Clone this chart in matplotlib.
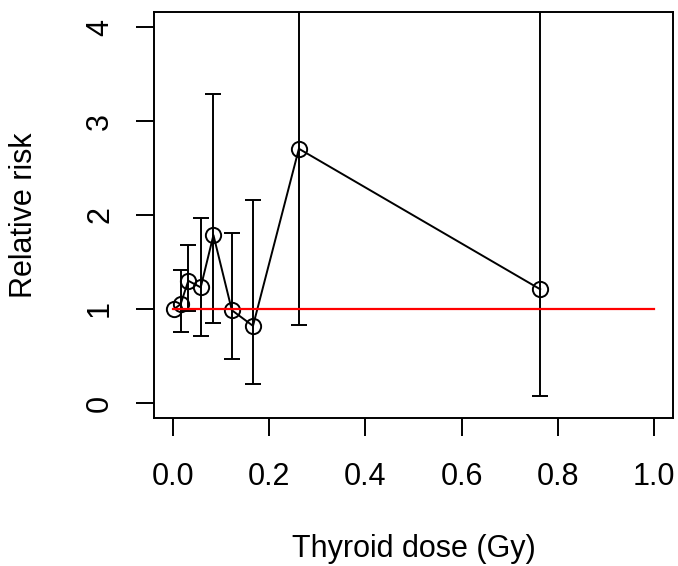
import numpy as np
import matplotlib
matplotlib.use("Agg")
import matplotlib.pyplot as plt

plt.rcParams['font.family'] = ['Liberation Sans', 'DejaVu Sans']

# dose categories (Gy) and relative risks with 95% CI
dose = [0.002, 0.0153, 0.0314, 0.0572, 0.0837, 0.122, 0.166, 0.2615, 0.7636]
rr = [1.0, 1.05, 1.30, 1.23, 1.786, 0.987, 0.82, 2.705, 1.21]
lower = [np.nan, 0.75, 0.98, 0.71, 0.846, 0.467, 0.20, 0.83, 0.077]
upper = [np.nan, 1.42, 1.68, 1.97, 3.29, 1.81, 2.16, 6.0, 12.0]

xticks = [0.0, 0.2, 0.4, 0.6, 0.8, 1.0]
yticks = [0, 1, 2, 3, 4]

fig = plt.figure(figsize=(6.78, 5.66), dpi=100)
ax = fig.add_axes([154/678, 1 - 418/566, (673-154)/678, (418-12)/566])

dose = np.array(dose)
rr = np.array(rr)
lo = np.array(lower)
hi = np.array(upper)
yerr = np.vstack([rr - lo, hi - rr])

lw = 1.4
ax.errorbar(dose, rr, yerr=yerr, fmt='none', ecolor='black', elinewidth=lw,
            capsize=5.8, capthick=lw, zorder=2)
ax.plot(dose, rr, color='black', lw=lw, marker='o', ms=11, mfc='none',
        mec='black', mew=lw, zorder=3)
ax.plot([0, 1], [1, 1], color='red', lw=1.6, zorder=4)

ax.set_xlim(-0.04, 1.04)
ax.set_ylim(-0.16, 4.16)
ax.set_xticks(xticks)
ax.set_xticklabels(['0.0', '0.2', '0.4', '0.6', '0.8', '1.0'])
ax.set_yticks(yticks)
ax.set_yticklabels([str(v) for v in yticks], rotation=90, va='center')
ax.tick_params(axis='both', direction='out', length=13, width=lw,
               labelsize=22, color='black')
ax.tick_params(axis='x', pad=19)
ax.tick_params(axis='y', pad=15)
for s in ax.spines.values():
    s.set_linewidth(lw)

fig.text((154+673)/2/678, 1 - 549/566, 'Thyroid dose (Gy)', ha='center', va='center', fontsize=22)
fig.text(24/678, 1 - 215/566, 'Relative risk', ha='center', va='center', rotation=90, fontsize=22)

fig.savefig('out.png', dpi=100)
